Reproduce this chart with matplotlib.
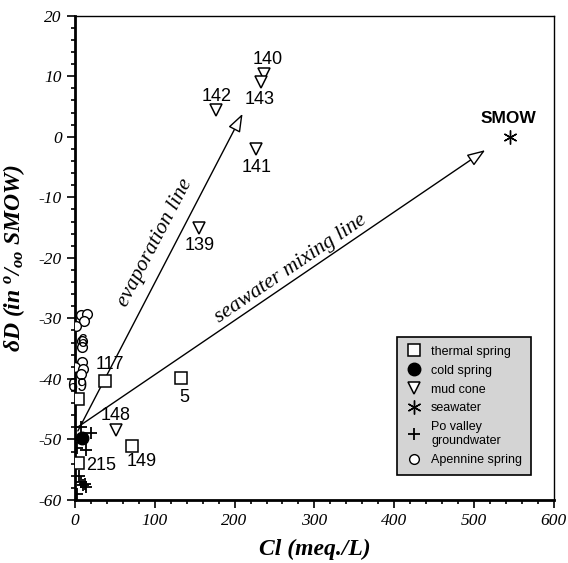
import numpy as np
import matplotlib
matplotlib.use('Agg')
import matplotlib.pyplot as plt
from matplotlib.ticker import MultipleLocator

plt.rcParams['axes.unicode_minus'] = False
plt.rcParams['mathtext.fontset'] = 'custom'
plt.rcParams['mathtext.rm'] = 'Liberation Serif:italic:bold'
plt.rcParams['mathtext.it'] = 'Liberation Serif:italic:bold'

# thermal spring
thermal_cl = [37.6, 133, 71.7, 3.2, 4.0]
thermal_d = [-40.3, -39.9, -51.1, -43.4, -53.9]
# cold spring
cold_cl = [9]
cold_d = [-49.8]
# mud cone
mud_cl = [237, 233, 177, 227, 155, 51]
mud_d = [10.3, 9.1, 4.5, -2.0, -15.0, -48.4]
# seawater (SMOW)
sea_cl = [545]
sea_d = [0]
# Po valley groundwater
po_cl = [7, 20, 3, 14, 5, 7, 12, 14, 10, 3]
po_d = [-48.0, -49.0, -51.5, -51.8, -56.0, -57.0, -57.3, -57.8, -57.5, -59.0]
# Apennine spring
ap_cl = [7, 15, 11, 1, 9, 9, 9, 0, 10, 7]
ap_d = [-29.4, -29.3, -30.5, -31.3, -33.8, -34.8, -37.2, -38.0, -38.3, -39.2]

# sample labels
lab_text = ['140', '143', '142', '141', '139', '148', '117', '69', '5', '149', '215', '6']
lab_x = [242, 232, 177, 227, 156, 51, 44, 3, 137, 83, 33, 9]
lab_y = [12.7, 6.2, 6.6, -5.0, -18.0, -46.1, -37.7, -41.2, -43.0, -53.7, -54.3, -34.0]

# trend lines (start, end)
evap_line = [(3.6, -48.6), (210, 3.8)]
mix_line = [(3.0, -48.0), (514, -2.2)]

fig = plt.figure(figsize=(5.68, 5.63), dpi=100)
ax = fig.add_axes([0.132, 0.112, 0.843, 0.860])

ax.plot(thermal_cl, thermal_d, 's', ms=8, mfc='white', mec='black', mew=1.1,
        ls='none', label='thermal spring', zorder=3)
ax.plot(cold_cl, cold_d, 'o', ms=9, color='black', ls='none',
        label='cold spring', zorder=3)
ax.plot(mud_cl, mud_d, 'v', ms=9, mfc='white', mec='black', mew=1.1,
        ls='none', label='mud cone', zorder=3)
ax.plot(sea_cl, sea_d, marker=(6, 2, 0), ms=10, color='black', mew=1.0,
        ls='none', label='seawater', zorder=3)
ax.plot(po_cl, po_d, '+', ms=8, color='black', mew=1.3, ls='none',
        label='Po valley\ngroundwater', zorder=3)
ax.plot(ap_cl, ap_d, 'o', ms=7, mfc='white', mec='black', mew=1.0,
        ls='none', label='Apennine spring', zorder=3)

for line in (evap_line, mix_line):
    ax.annotate('', xy=line[1], xytext=line[0],
                arrowprops=dict(arrowstyle='-|>,head_length=1.1,head_width=0.4',
                                fc='white', ec='black', lw=1.0,
                                shrinkA=0, shrinkB=0), zorder=2)

for t, x, y in zip(lab_text, lab_x, lab_y):
    ax.text(x, y, t, ha='center', va='center', fontsize=13,
            family='Liberation Sans', zorder=4)
ax.text(543, 3.0, 'SMOW', ha='center', va='center', fontsize=12.5,
        fontweight='bold', family='Liberation Sans')

ax.text(100, -17.5, 'evaporation line', rotation=62.5, ha='center', va='center',
        fontsize=15.5, style='italic', family='Liberation Serif')
ax.text(270, -21.8, 'seawater mixing line', rotation=34.2, ha='center', va='center',
        fontsize=15.5, style='italic', family='Liberation Serif')

ax.set_xlim(0, 600)
ax.set_ylim(-60, 20)
ax.xaxis.set_major_locator(MultipleLocator(100))
ax.xaxis.set_minor_locator(MultipleLocator(20))
ax.yaxis.set_major_locator(MultipleLocator(10))
ax.yaxis.set_minor_locator(MultipleLocator(2))
ax.tick_params(which='both', direction='out', top=False, right=False, width=1.2)
ax.tick_params(which='major', length=6, labelsize=12.5)
ax.tick_params(which='minor', length=3)
for lbl in ax.get_xticklabels() + ax.get_yticklabels():
    lbl.set_family('Liberation Serif')
    lbl.set_style('italic')
ax.spines['left'].set_linewidth(2)
ax.spines['bottom'].set_linewidth(2)
ax.spines['top'].set_linewidth(1)
ax.spines['right'].set_linewidth(1)

ax.set_xlabel('Cl (meq./L)', fontsize=17, fontweight='bold', style='italic',
              family='Liberation Serif', labelpad=7)
ax.set_ylabel(r'$\delta D$ (in $^{o}$/$_{oo}$ SMOW)', fontsize=17, fontweight='bold',
              style='italic', family='Liberation Serif', labelpad=8)

leg = ax.legend(loc='lower right', bbox_to_anchor=(0.952, 0.052), borderaxespad=0,
                frameon=True, fancybox=False, edgecolor='black', facecolor='#d4d4d4',
                framealpha=1, prop={'family': 'Liberation Sans', 'size': 9},
                handlelength=1.2, handletextpad=0.8, labelspacing=0.55,
                borderpad=0.7)
leg.get_frame().set_linewidth(1.2)

fig.savefig('out.png', dpi=100)
